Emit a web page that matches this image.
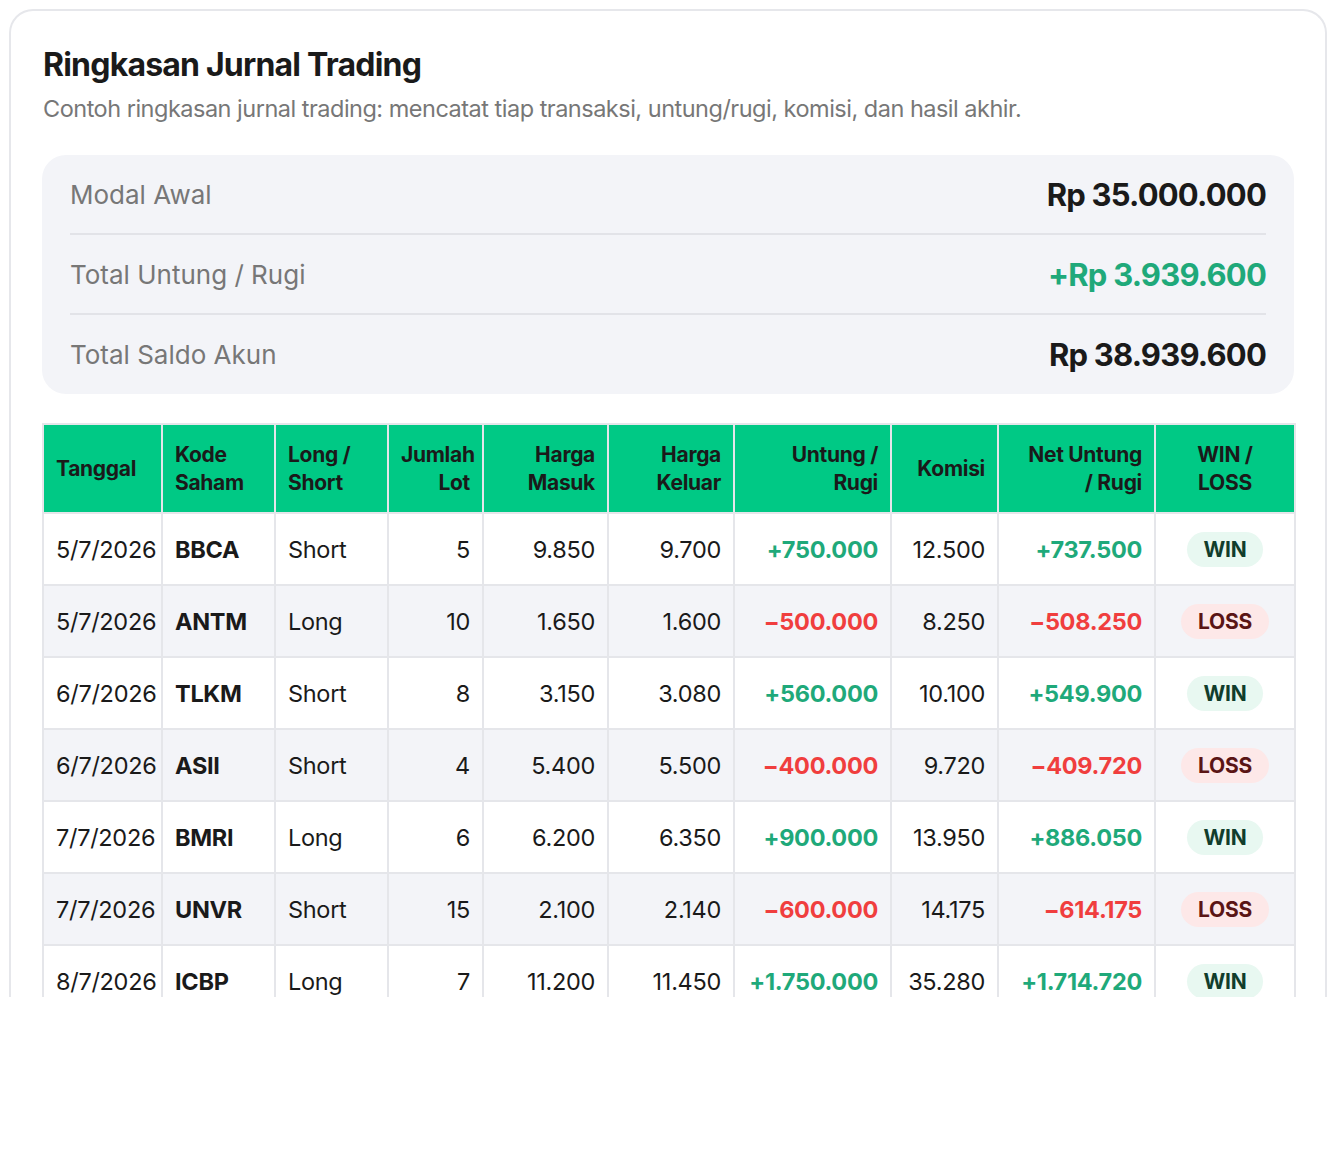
<!DOCTYPE html>
<html><head><meta charset="utf-8">
<script src="https://cdn.jsdelivr.net/npm/chart.js@4/dist/chart.umd.min.js"></script>
<style>
body{margin:0;background:#fff;font-family:Inter,"Noto Sans",sans-serif;color:#1a1a1a}
.card{position:absolute;left:9px;top:9px;width:1318px;height:988px;border:2px solid #e6e7eb;border-bottom:none;border-radius:24px 24px 0 0;overflow:hidden;box-sizing:border-box}
h1{position:absolute;left:32px;top:34px;margin:0;font-size:32px;font-weight:700;letter-spacing:-0.8px}
.sub{position:absolute;left:32px;top:83px;font-size:23.5px;color:#777;letter-spacing:-0.5px}
.sum{position:absolute;left:31px;top:144px;width:1252px;height:239px;background:#f3f4f8;border-radius:24px;padding:0 28px;box-sizing:border-box}
.srow{display:flex;justify-content:space-between;align-items:center;height:78px;border-bottom:2px solid #e2e3e8;font-size:26px;color:#777}
.srow:last-child{border-bottom:none}
.srow b{font-size:31px;color:#1a1a1a;letter-spacing:-0.8px}
.srow b.pos{color:#1fa97a}
table{position:absolute;left:31px;top:412px;width:1252px;table-layout:fixed;border-collapse:collapse;font-size:23.5px;letter-spacing:-0.3px}
th{background:#00c985;color:#1a1a1a;font-weight:700;font-size:21px;line-height:28px;height:89px;border:2px solid #e5e6ea;padding:0 12px;box-sizing:border-box}
td{height:72px;border:2px solid #e5e6ea;padding:0 12px;box-sizing:border-box;white-space:nowrap}
tr:nth-child(odd) td{background:#f3f4f8}
.l{text-align:left}.r{text-align:right}.c{text-align:center}
.pos{color:#1fa97a;font-weight:700}.neg{color:#f03e3e;font-weight:700}
.badge{display:inline-block;padding:5px 17px;border-radius:20px;font-weight:700;font-size:21px}
.win{background:#e8f8f1;color:#113d2c}.loss{background:#fde8e8;color:#5a1515}
</style></head><body>
<div class="card">
<h1>Ringkasan Jurnal Trading</h1>
<div class="sub">Contoh ringkasan jurnal trading: mencatat tiap transaksi, untung/rugi, komisi, dan hasil akhir.</div>
<div class="sum" id="sum"></div>
<table id="tbl"></table>
</div>
<script>
const summaryLabels = ['Modal Awal', 'Total Untung / Rugi', 'Total Saldo Akun'];
const summaryValues = ['Rp 35.000.000', '+Rp 3.939.600', 'Rp 38.939.600'];

const headers = ['Tanggal', 'Kode<br>Saham', 'Long /<br>Short', 'Jumlah<br>Lot', 'Harga<br>Masuk', 'Harga<br>Keluar', 'Untung /<br>Rugi', 'Komisi', 'Net Untung<br>/ Rugi', 'WIN /<br>LOSS'];
const headerAlign = ['l', 'l', 'l', 'r', 'r', 'r', 'r', 'r', 'r', 'c'];
const colWidths = [119, 113, 113, 95, 125, 126, 157, 107, 157, 140];

const dates = ['5/7/2026', '5/7/2026', '6/7/2026', '6/7/2026', '7/7/2026', '7/7/2026', '8/7/2026'];
const codes = ['BBCA', 'ANTM', 'TLKM', 'ASII', 'BMRI', 'UNVR', 'ICBP'];
const sides = ['Short', 'Long', 'Short', 'Short', 'Long', 'Short', 'Long'];
const lots = ['5', '10', '8', '4', '6', '15', '7'];
const entry = ['9.850', '1.650', '3.150', '5.400', '6.200', '2.100', '11.200'];
const exitP = ['9.700', '1.600', '3.080', '5.500', '6.350', '2.140', '11.450'];
const pnl = ['+750.000', '-500.000', '+560.000', '-400.000', '+900.000', '-600.000', '+1.750.000'];
const fees = ['12.500', '8.250', '10.100', '9.720', '13.950', '14.175', '35.280'];
const net = ['+737.500', '-508.250', '+549.900', '-409.720', '+886.050', '-614.175', '+1.714.720'];
const result = ['WIN', 'LOSS', 'WIN', 'LOSS', 'WIN', 'LOSS', 'WIN'];

document.getElementById('sum').innerHTML = summaryLabels.map((l, i) =>
  `<div class="srow"><span>${l}</span><b class="${i === 1 ? 'pos' : ''}">${summaryValues[i]}</b></div>`).join('');

const sign = v => v.startsWith('-') ? 'neg' : 'pos';
let html = '<tr>' + headers.map((h, i) => `<th class="${headerAlign[i]}" style="width:${colWidths[i]}px">${h}</th>`).join('') + '</tr>';
dates.forEach((d, i) => {
  html += `<tr><td class="l">${d}</td><td class="l"><b>${codes[i]}</b></td><td class="l">${sides[i]}</td>
  <td class="r">${lots[i]}</td><td class="r">${entry[i]}</td><td class="r">${exitP[i]}</td>
  <td class="r ${sign(pnl[i])}">${pnl[i].replace('-', '−')}</td><td class="r">${fees[i]}</td>
  <td class="r ${sign(net[i])}">${net[i].replace('-', '−')}</td>
  <td class="c"><span class="badge ${result[i].toLowerCase()}">${result[i]}</span></td></tr>`;
});
document.getElementById('tbl').innerHTML = html;
</script>
</body></html>
